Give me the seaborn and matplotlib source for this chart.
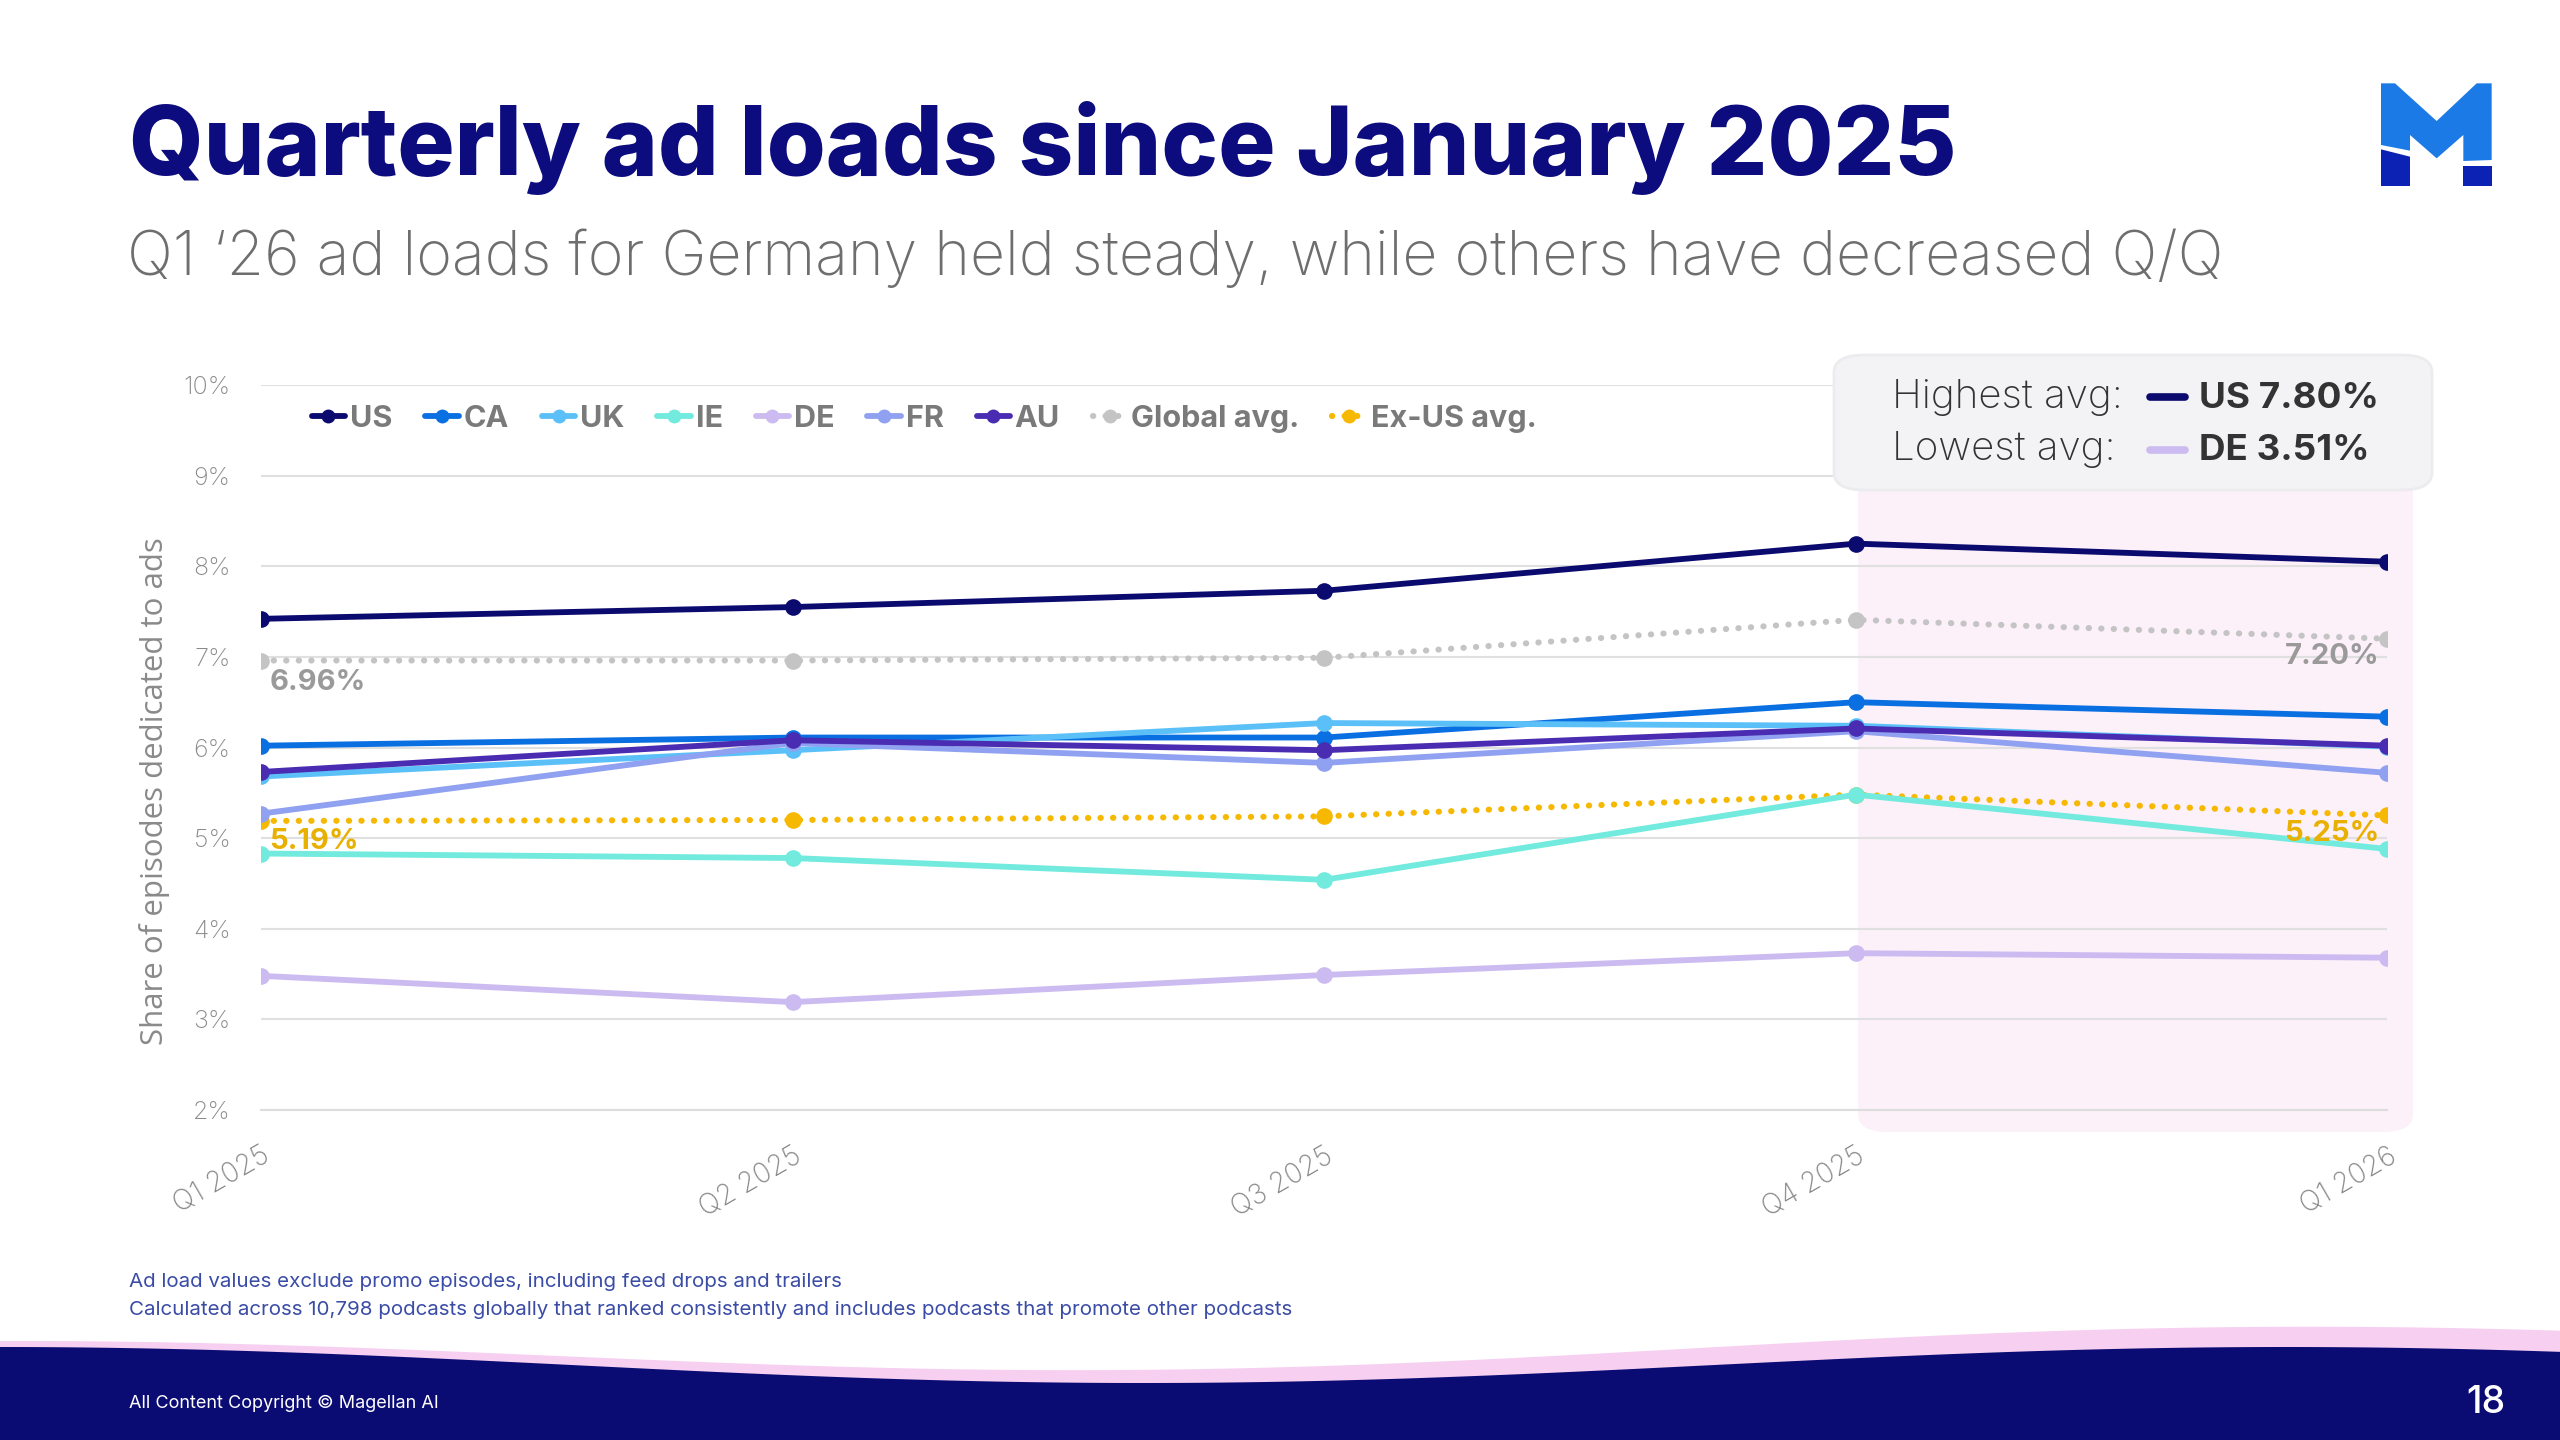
import numpy as np
import pandas as pd
import matplotlib
matplotlib.use("Agg")
import matplotlib.pyplot as plt
from matplotlib.patches import FancyBboxPatch, Polygon
from matplotlib.lines import Line2D
import seaborn as sns

# ---------------- data ----------------
quarters = ["Q1 2025", "Q2 2025", "Q3 2025", "Q4 2025", "Q1 2026"]
us = [7.42, 7.55, 7.73, 8.25, 8.05]
ca = [6.02, 6.11, 6.11, 6.50, 6.34]
uk = [5.68, 5.97, 6.27, 6.24, 6.01]
ie = [4.83, 4.78, 4.54, 5.48, 4.88]
de = [3.48, 3.19, 3.49, 3.73, 3.68]
fr = [5.27, 6.05, 5.83, 6.18, 5.72]
au = [5.73, 6.08, 5.97, 6.21, 6.02]
global_avg = [6.96, 6.96, 6.99, 7.41, 7.20]
exus_avg = [5.19, 5.20, 5.24, 5.48, 5.25]
series_names = ["US", "CA", "UK", "IE", "DE", "FR", "AU", "Global avg.", "Ex-US avg."]
yticks = [2, 3, 4, 5, 6, 7, 8, 9, 10]
highest_label = "US 7.80%"
lowest_label = "DE 3.51%"

series_values = [us, ca, uk, ie, de, fr, au, global_avg, exus_avg]
colors = {
    "US": "#0b0a6e", "CA": "#0a6fe0", "UK": "#5cc0f8", "IE": "#72eade",
    "DE": "#cbbbf0", "FR": "#8fa1f0", "AU": "#4a2cb2",
    "Global avg.": "#c4c4c4", "Ex-US avg.": "#f6b800",
}
dotted = {"Global avg.", "Ex-US avg."}

rows = []
for name, vals in zip(series_names, series_values):
    for i, v in enumerate(vals):
        rows.append({"series": name, "qi": i, "value": v})
df = pd.DataFrame(rows)

# ---------------- figure ----------------
sns.set_theme(style="white")
plt.rcParams["font.family"] = ["Inter", "DejaVu Sans"]

W, H = 2560, 1440
fig = plt.figure(figsize=(25.6, 14.4), dpi=100)
fig.patch.set_facecolor("white")

def fx(x):
    return x / W

def fy(y):
    return 1 - y / H

ax = fig.add_axes([0.1020, 0.2292, 0.8306, 0.5034])
ax.set_facecolor("none")
ax.set_zorder(2)

# pink highlight (Q4 2025 onward) behind the axes
shade = FancyBboxPatch((fx(1858), fy(1132)), fx(2413) - fx(1858), fy(470) - fy(1132),
                       boxstyle="round,pad=0,rounding_size=0.012", transform=fig.transFigure,
                       facecolor="#fcf0f9", edgecolor="none", zorder=1)
fig.patches.append(shade)

for name in series_names:
    sub = df[df.series == name]
    is_dot = name in dotted
    sns.lineplot(data=sub, x="qi", y="value", ax=ax, color=colors[name], label=name,
                 marker="o", markersize=12, markeredgewidth=0,
                 linewidth=4.2 if not is_dot else 4.4,
                 linestyle=(0, (0.05, 2.0)) if is_dot else "-",
                 dash_capstyle="round", solid_capstyle="round",
                 zorder=3 if not is_dot else 2.5)

# data labels
lab_kw = dict(textcoords="offset points", fontsize=21, fontweight="bold", va="top")
ax.annotate(f"{global_avg[0]:.2f}%", (0, global_avg[0]), xytext=(6, -6), ha="left",
            color="#9a9a9a", **lab_kw)
ax.annotate(f"{global_avg[-1]:.2f}%", (4, global_avg[-1]), xytext=(-6, -3), ha="right",
            color="#9a9a9a", **lab_kw)
ax.annotate(f"{exus_avg[0]:.2f}%", (0, exus_avg[0]), xytext=(6, -5), ha="left",
            color="#e8b000", **lab_kw)
ax.annotate(f"{exus_avg[-1]:.2f}%", (4, exus_avg[-1]), xytext=(-6, -3), ha="right",
            color="#e8b000", **lab_kw)

ax.set_xlim(0, 4)
ax.set_ylim(2, 10)
ax.set_yticks(yticks)
ax.set_yticklabels([f"{t}%" for t in yticks])
ax.set_xticks(range(len(quarters)))
ax.set_xticklabels(quarters, rotation=30, ha="right", va="top", rotation_mode="anchor")
ax.grid(axis="y", color="#e0e0e0", linewidth=1.5)
ax.grid(axis="x", visible=False)
for s in ["top", "right", "left"]:
    ax.spines[s].set_visible(False)
ax.spines["bottom"].set_color("#dddddd")
ax.spines["bottom"].set_linewidth(1.5)
ax.tick_params(axis="y", length=0, pad=22, labelsize=18, labelcolor="#8a8a8a")
ax.tick_params(axis="x", length=9, width=1.5, color="#dddddd", pad=14,
               labelsize=20, labelcolor="#858585")
for t in ax.get_xticklabels() + ax.get_yticklabels():
    t.set_fontweight("light")
ax.set_xlabel("")
ax.set_ylabel("Share of episodes dedicated to ads", fontsize=22.5, color="#8a8a8a",
              fontfamily=["Open Sans", "DejaVu Sans"])
ax.yaxis.set_label_coords(-0.043, 0.44)

leg = ax.legend(loc="center left", bbox_to_anchor=(0.018, 0.953), ncol=9, frameon=False,
                handlelength=1.1, handletextpad=0.15, columnspacing=1.08,
                prop={"size": 22, "weight": "bold"}, labelcolor="#7a7a7a", borderaxespad=0)
for h in leg.legend_handles:
    h.set_markersize(10)

# info box (above the axes)
box = FancyBboxPatch((fx(1834), fy(490)), fx(2432) - fx(1834), fy(355) - fy(490),
                     boxstyle="round,pad=0,rounding_size=0.012", transform=fig.transFigure,
                     facecolor="#f3f3f5", edgecolor="#ececee", linewidth=2, zorder=3)
fig.patches.append(box)
box_txt = dict(color="#333333", va="center", ha="left", zorder=4)
fig.text(fx(1892), fy(398), "Highest avg:", fontsize=29, fontweight="light", **box_txt)
fig.text(fx(1892), fy(450), "Lowest avg:", fontsize=29, fontweight="light", **box_txt)
fig.lines.append(Line2D([fx(2150), fx(2185)], [fy(397), fy(397)], transform=fig.transFigure,
                        color=colors["US"], linewidth=5.5, zorder=4))
fig.lines.append(Line2D([fx(2150), fx(2185)], [fy(450), fy(450)], transform=fig.transFigure,
                        color=colors["DE"], linewidth=5.5, zorder=4))
fig.text(fx(2199), fy(398), highest_label, fontsize=26.5, fontweight="bold", **box_txt)
fig.text(fx(2199), fy(450), lowest_label, fontsize=26.5, fontweight="bold", **box_txt)

# title / subtitle
fig.text(fx(129), fy(148), "Quarterly ad loads since January 2025", fontsize=68.8,
         fontweight="heavy", color="#0d0c7e", ha="left", va="center")
fig.text(fx(127), fy(258), "Q1 \u201826 ad loads for Germany held steady, while others have decreased Q/Q",
         fontsize=43.8, color="#6e6e6e", ha="left", va="center", fontweight="light")

# footnotes
fig.text(fx(129), fy(1282), "Ad load values exclude promo episodes, including feed drops and trailers",
         fontsize=14.8, color="#3a4ca6", ha="left", va="center")
fig.text(fx(129), fy(1310), "Calculated across 10,798 podcasts globally that ranked consistently and includes podcasts that promote other podcasts",
         fontsize=14.8, color="#3a4ca6", ha="left", va="center")

# footer wave
xs = np.linspace(0, W, 400)
navy_top = 1365 + 18 * np.cos(2 * np.pi * (xs - 1143) / 2286)
pink_top = 1363 + 18 * np.cos(2 * np.pi * (xs - 1120) / 2286) - (4 + 16 * xs / W)
pink_poly = np.column_stack([np.r_[xs, W, 0], np.r_[pink_top, H, H]])
navy_poly = np.column_stack([np.r_[xs, W, 0], np.r_[navy_top, H, H]])
for poly, col in [(pink_poly, "#f7d0f1"), (navy_poly, "#0b0c73")]:
    p = Polygon(np.column_stack([fx(poly[:, 0]), fy(poly[:, 1])]), closed=True,
                transform=fig.transFigure, facecolor=col, edgecolor="none", zorder=1)
    fig.patches.append(p)
fig.text(fx(129), fy(1403), "All Content Copyright \u00a9 Magellan AI", fontsize=13,
         color="white", ha="left", va="center", zorder=3)
fig.text(fx(2505), fy(1403), "18", fontsize=27, color="white", ha="right", va="center",
         fontweight="medium", zorder=3)

# logo
def zp(pts):
    return [(fx(2340 + a / 3), fy(60 + b / 3)) for a, b in pts]

logo_light = [(123, 70), (165, 70), (290, 183), (410, 70), (455, 70), (455, 300),
              (370, 303), (370, 225), (290, 295), (210, 225), (210, 272), (123, 255)]
logo_dark1 = [(123, 268), (210, 290), (210, 378), (123, 378)]
logo_dark2 = [(370, 318), (455, 318), (455, 378), (370, 378)]
for pts, col in [(logo_light, "#1b7ae6"), (logo_dark1, "#0b22b4"), (logo_dark2, "#0b22b4")]:
    fig.patches.append(Polygon(zp(pts), closed=True, transform=fig.transFigure,
                               facecolor=col, edgecolor="none", zorder=1))

fig.savefig("out.png", dpi=100, facecolor="white")
